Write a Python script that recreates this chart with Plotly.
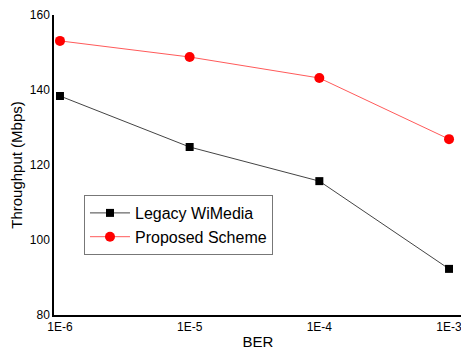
import plotly.graph_objects as go

ber = ["1E-6", "1E-5", "1E-4", "1E-3"]
legacy = [138.4, 124.8, 115.7, 92.3]
proposed = [153.1, 148.8, 143.2, 126.9]

x_idx = list(range(len(ber)))

fig = go.Figure()
fig.add_trace(go.Scatter(
    x=x_idx, y=legacy, name="Legacy WiMedia", mode="lines+markers",
    line=dict(color="#444444", width=1),
    marker=dict(symbol="square", size=8, color="black"),
))
fig.add_trace(go.Scatter(
    x=x_idx, y=proposed, name="Proposed Scheme", mode="lines+markers",
    line=dict(color="#ff5a5a", width=1),
    marker=dict(symbol="circle", size=10, color="red"),
))

# The page body has an 8px default margin, so the figure is offset by 8px.
fig.update_layout(
    width=461, height=342,
    margin=dict(l=46, r=7, t=7, b=35, autoexpand=False),
    paper_bgcolor="white", plot_bgcolor="white",
    font=dict(family="Arial, Liberation Sans, sans-serif", size=12, color="black"),
    legend=dict(
        x=0.0735, y=0.40, xanchor="left", yanchor="top",
        bordercolor="#777777", borderwidth=1, bgcolor="white",
        font=dict(size=16), tracegroupgap=0,
        itemwidth=40,
    ),
    xaxis=dict(
        range=[-0.046, 3.1], tickvals=x_idx, ticktext=ber,
        showline=True, linecolor="black", linewidth=1.5,
        showgrid=False, zeroline=False, ticks="", automargin=False,
        title=dict(text="BER", font=dict(size=15), standoff=4),
        tickfont=dict(size=12),
    ),
    yaxis=dict(
        range=[80, 160], tickvals=[80, 100, 120, 140, 160],
        showline=True, linecolor="black", linewidth=1.5,
        showgrid=False, zeroline=False, ticks="", automargin=False,
        title=dict(text="Throughput (Mbps)", font=dict(size=15), standoff=6),
        tickfont=dict(size=12),
    ),
    showlegend=True,
)

fig.write_html("out.html")
